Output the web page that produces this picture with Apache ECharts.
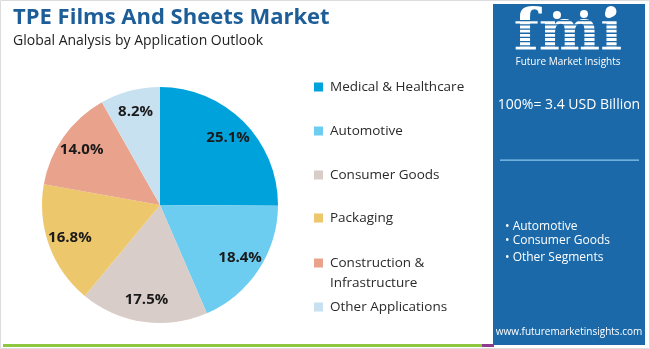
<!DOCTYPE html>
<html><head><meta charset="utf-8">
<script src="https://cdn.jsdelivr.net/npm/echarts@6/dist/echarts.min.js"></script>
<style>html,body{margin:0;padding:0;background:#fff}#c{width:650px;height:349px}</style>
</head><body><div id="c"></div>
<script>
const categories = ["Medical & Healthcare","Automotive","Consumer Goods","Packaging","Construction & Infrastructure","Other Applications"];
const values = [25.1, 18.4, 17.5, 16.8, 14.0, 8.2];
const colors = ["#00a2db","#6dcdf1","#d8cdc9","#edc76b","#e9a28b","#c8e1f0"];
const legendLabels = ["Medical & Healthcare","Automotive","Consumer Goods","Packaging","Construction &","Other Applications"];
const legendExtra = "Infrastructure";
const legendTops = [80, 124, 168, 211, 256, 300];
const panelBullets = ["• Automotive","• Consumer Goods","• Other Segments"];

const chart = echarts.init(document.getElementById('c'), null, {renderer:'canvas'});
const data = categories.map((n,i)=>({name:n, value:values[i], itemStyle:{color:colors[i]}}));
const FONT = '"Open Sans", sans-serif';

const legends = categories.map((n,i)=>({
  data:[n], left:314, top:legendTops[i], orient:'vertical',
  icon:'rect', itemWidth:9, itemHeight:9, itemGap:0, padding:0,
  formatter:()=>legendLabels[i],
  textStyle:{fontFamily:FONT, fontSize:13.5, color:'#2a2a2a', padding:[0,0,0,2]}
}));

const stripes = [];
for (let y=20; y<56; y+=4.2) stripes.push({type:'rect', shape:{x:512,y:y,width:112,height:1.3}, style:{fill:'#1b69a9'}, z:20});

chart.setOption({
  animation:false,
  legend: legends,
  graphic: [
    {type:'rect', shape:{x:0.5,y:0.5,width:649,height:348}, style:{fill:'none',stroke:'#dcdcdc',lineWidth:1}, z:-1},
    {type:'rect', shape:{x:3,y:344,width:485,height:3}, style:{fill:'#8dc63f'}},
    {type:'rect', shape:{x:482,y:344,width:12,height:3}, style:{fill:'#8e3a8e'}},
    {type:'rect', shape:{x:493,y:4,width:152,height:341}, style:{fill:'#1b69a9'}, z:10},
    {type:'text', x:568, y:35, style:{text:'fmi', fill:'#fff', font:'bold 58px "DejaVu Serif", serif', align:'center', verticalAlign:'middle'}, z:15},
    ...stripes,
    {type:'circle', shape:{cx:557,cy:15,r:4}, style:{fill:'#fff'}, z:21},
    {type:'circle', shape:{cx:584,cy:14,r:4}, style:{fill:'#fff'}, z:21},
    {type:'circle', shape:{cx:609,cy:14,r:4}, style:{fill:'#fff'}, z:21},
    {type:'text', x:568, y:62, style:{text:'Future Market Insights', fill:'#fff', font:'10px '+FONT, align:'center', verticalAlign:'middle'}, z:15},
    {type:'text', x:569, y:105, style:{text:'100%= 3.4 USD Billion', fill:'#fff', font:'14px '+FONT, align:'center', verticalAlign:'middle'}, z:15},
    {type:'rect', shape:{x:500,y:159.5,width:139,height:1.2}, style:{fill:'#8ec8ee'}, z:15},
    ...panelBullets.map((t,i)=>({type:'text', x:505, y:[227,241,258][i], style:{text:t, fill:'#fff', font:'12px '+FONT, verticalAlign:'middle'}, z:15})),
    {type:'text', x:569, y:332, style:{text:'www.futuremarketinsights.com', fill:'#fff', font:'10px '+FONT, align:'center', verticalAlign:'middle'}, z:15},
    {type:'text', x:13, y:18, style:{text:'TPE Films And Sheets Market', fill:'#1d5e98', font:'bold 22px '+FONT, verticalAlign:'middle'}},
    {type:'text', x:13, y:41, style:{text:'Global Analysis by Application Outlook', fill:'#222', font:'14px '+FONT, verticalAlign:'middle'}},
    {type:'text', x:330, y:283, style:{text:legendExtra, fill:'#2a2a2a', font:'13.5px '+FONT, verticalAlign:'middle'}}
  ],
  series: [
    {type:'pie', center:[160,205], radius:[0,118], startAngle:90, clockwise:true, data:data,
     label:{show:false}, labelLine:{show:false}, itemStyle:{borderWidth:0}, silent:true},
    {type:'pie', center:[160,205], radius:[0,186], startAngle:90, clockwise:true,
     data:categories.map((n,i)=>({name:n+' ', value:values[i]})),
     itemStyle:{color:'rgba(0,0,0,0)'}, silent:true, legendHoverLink:false,
     label:{show:true, position:'inside', formatter:p=>values[p.dataIndex].toFixed(1)+'%',
       fontSize:15, fontWeight:'bold', color:'#1a1a1a', fontFamily:FONT},
     labelLine:{show:false}}
  ]
});
</script></body></html>
